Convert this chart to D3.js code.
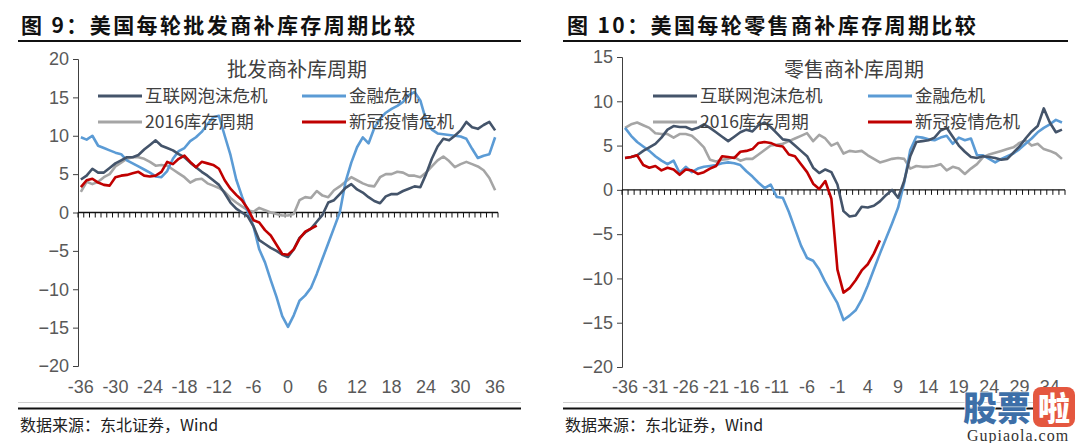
<!DOCTYPE html>
<html><head><meta charset="utf-8">
<script src="https://cdn.jsdelivr.net/npm/d3@7/dist/d3.min.js"></script>
<style>
html,body{margin:0;padding:0;background:#fff;}
svg{display:block;}
</style></head>
<body>
<svg id="c" width="1080" height="443"></svg>
<script>
// ---------- DATA ----------
const months = d3.range(-36, 37);
const seriesNames = ["互联网泡沫危机", "金融危机", "2016库存周期", "新冠疫情危机"];

// Left: wholesalers
const wDotcom = [4.3,4.8,5.7,5.2,5.2,5.8,6.4,6.8,7.2,7.2,7.5,8.2,8.8,9.4,8.7,8.4,8.1,7.6,7.2,6.5,5.9,5.3,4.8,4.2,3.6,2.5,1.3,0.5,0.0,-0.5,-1.8,-3.6,-4.1,-4.6,-5.0,-5.5,-5.8,-4.8,-3.3,-2.6,-2.1,-1.2,-0.3,1.3,1.6,2.4,3.2,3.7,3.0,2.6,2.0,1.5,1.2,2.1,2.4,2.4,2.8,3.1,3.4,3.3,5.0,7.0,8.6,9.6,9.4,10.0,10.7,11.8,11.1,10.9,11.4,11.8,10.7];
const wGfc = [9.8,9.5,10.0,8.7,8.4,8.1,7.8,7.6,6.8,6.4,6.0,5.6,5.2,4.7,4.6,5.4,7.0,8.0,8.4,9.3,9.8,10.5,11.5,12.4,12.6,10.0,7.5,4.3,2.1,0.1,-1.8,-4.8,-6.5,-8.8,-11.0,-13.5,-14.9,-13.4,-11.5,-10.8,-9.8,-8.0,-6.0,-4.0,-2.0,0.0,4.0,6.5,8.5,9.8,9.0,11.0,12.2,13.0,13.5,13.9,14.4,15.3,15.7,14.6,12.0,10.8,10.3,10.2,10.1,10.0,9.9,9.6,8.3,7.1,7.4,7.6,9.8];
const w2016 = [2.7,4.0,3.7,4.0,4.6,5.0,6.0,6.5,7.0,7.2,7.2,7.0,6.6,6.1,6.2,6.1,5.6,5.1,4.6,3.9,4.3,4.4,3.8,3.5,3.2,2.7,1.9,1.3,0.8,0.3,0.1,0.6,0.3,0.0,-0.2,-0.4,-0.4,-0.2,1.6,2.0,1.9,2.8,2.2,2.0,2.9,3.4,4.0,4.6,4.2,3.8,3.5,3.4,4.6,5.0,5.0,5.3,5.2,4.8,4.8,4.6,5.2,6.0,6.8,7.3,6.7,5.9,6.3,6.6,6.3,6.0,5.5,4.5,2.9];
const wCovid = [3.3,4.2,4.4,3.9,3.6,3.5,4.6,4.8,4.9,5.1,5.3,4.8,4.7,4.8,5.3,6.6,6.3,7.0,7.4,6.6,5.9,6.6,6.4,6.2,5.7,4.2,3.1,2.3,1.6,0.5,-1.0,-1.3,-2.3,-3.0,-4.2,-5.4,-5.5,-4.8,-3.4,-2.5,-2.1,-1.7];

// Right: retailers
const rDotcom = [3.6,3.7,3.9,4.4,4.8,5.2,5.9,6.8,7.2,7.1,7.1,6.8,7.0,7.4,7.0,6.5,6.0,5.5,6.0,6.5,6.8,6.6,7.3,7.6,7.1,6.4,5.7,5.6,5.0,4.4,3.8,2.5,1.9,2.3,2.0,0.6,-2.4,-3.0,-2.9,-1.9,-2.0,-1.8,-1.3,-0.6,0.0,-0.9,1.0,3.8,5.4,5.5,5.6,5.9,6.7,7.0,6.0,5.0,4.3,3.7,3.6,3.8,3.7,3.6,3.4,3.5,4.2,4.9,5.8,6.6,7.2,9.2,7.6,6.5,6.8];
const rGfc = [7.0,6.1,5.4,4.9,4.4,3.8,3.3,2.9,3.3,1.9,2.6,2.0,2.4,2.6,2.7,2.8,3.0,3.1,3.0,2.8,2.1,1.5,0.8,0.2,0.6,-0.8,-0.9,-2.5,-4.4,-6.3,-7.7,-8.0,-9.0,-10.4,-11.6,-12.8,-14.7,-14.2,-13.6,-12.4,-10.8,-9.0,-7.2,-5.5,-3.8,-2.0,0.8,4.5,6.0,5.9,5.7,5.6,5.9,6.1,5.2,5.9,5.6,5.8,3.9,3.9,3.5,3.1,3.5,3.8,4.1,4.6,5.2,5.8,6.5,7.0,7.4,7.9,7.6];
const r2016 = [7.0,7.4,7.6,7.3,7.0,6.4,6.3,6.3,5.9,6.3,6.3,6.1,5.5,4.8,3.4,3.2,3.4,3.5,3.7,3.3,3.5,3.5,4.0,4.5,5.0,5.1,5.2,5.5,5.8,6.1,6.4,5.5,6.2,5.8,5.0,5.3,4.1,4.4,4.3,4.4,3.9,3.5,3.1,3.3,3.5,3.6,3.5,2.4,2.7,2.6,2.6,2.7,2.9,2.2,2.6,2.4,1.8,2.4,2.9,3.7,4.0,4.2,4.4,4.6,4.8,5.3,5.6,5.0,5.2,4.6,4.4,4.1,3.5];
const rCovid = [3.6,3.7,3.9,2.8,2.5,2.7,2.2,2.5,2.3,1.7,2.3,2.2,1.8,2.0,2.4,2.7,3.8,3.7,3.6,4.3,4.4,4.6,5.3,5.4,5.3,5.0,4.9,4.0,3.8,2.9,2.0,0.7,0.1,1.0,-1.0,-9.0,-11.6,-11.1,-10.2,-9.1,-8.4,-7.2,-5.7];

const leftYTicks = [-20,-15,-10,-5,0,5,10,15,20];
const rightYTicks = [-20,-15,-10,-5,0,5,10,15];
const leftXTicks = [-36,-30,-24,-18,-12,-6,0,6,12,18,24,30,36];
const rightXTicks = [-36,-31,-26,-21,-16,-11,-6,-1,4,9,14,19,24,29,34];

const colors = ["#44546A", "#5B9BD5", "#A5A5A5", "#C00000"];

// ---------- DRAW ----------
const svg = d3.select("#c");
const CJK = "'Noto Sans CJK SC','Noto Sans',sans-serif";
const LAT = "'Liberation Sans',Arial,sans-serif";

function drawPanel(o) {
  const g = svg.append("g");
  // header
  g.append("text").attr("x", o.hx).attr("y", 33)
    .attr("font-family", CJK).attr("font-weight", 700).attr("font-size", 21)
    .attr("letter-spacing", 2.4).attr("xml:space", "preserve")
    .attr("fill", "#111").text(o.header);
  g.append("line").attr("x1", o.rx0).attr("x2", o.rx1).attr("y1", 41).attr("y2", 41)
    .attr("stroke", "#111").attr("stroke-width", 2);
  // footer rules
  g.append("line").attr("x1", o.rx0).attr("x2", o.rx1).attr("y1", 402.5).attr("y2", 402.5)
    .attr("stroke", "#d0d0d0").attr("stroke-width", 1);
  g.append("line").attr("x1", o.rx0).attr("x2", o.rx1).attr("y1", 408.5).attr("y2", 408.5)
    .attr("stroke", "#111").attr("stroke-width", 2);
  g.append("text").attr("x", o.rx0 + 2).attr("y", 431)
    .attr("font-family", CJK).attr("font-size", 16).attr("fill", "#222")
    .text("数据来源：东北证券，Wind");

  const x = d3.scaleBand().domain(months).range([o.x0, o.x1]).padding(0);
  const y = d3.scaleLinear().domain(o.yDomain).range([o.yBottom, o.yTop]);
  const cx = m => x(m) + x.bandwidth() / 2;

  // y axis
  const ya = g.append("g").attr("transform", `translate(${o.x0},0)`)
    .call(d3.axisLeft(y).tickValues(o.yTicks).tickSize(5).tickPadding(4).tickFormat(d3.format("d")));
  ya.select(".domain").attr("stroke", "#404040");
  ya.selectAll(".tick line").attr("stroke", "#404040");
  ya.selectAll("text").attr("font-family", LAT).attr("font-size", 18).attr("fill", "#595959");

  // x axis at zero with band ticks
  const zeroY = y(0);
  g.append("line").attr("x1", o.x0).attr("x2", o.x1).attr("y1", zeroY).attr("y2", zeroY)
    .attr("stroke", "#111").attr("stroke-width", 1.3);
  const bounds = months.map(m => x(m)).concat([o.x1]);
  g.selectAll("line.bt").data(bounds).join("line").attr("class", "bt")
    .attr("x1", d => d).attr("x2", d => d).attr("y1", zeroY).attr("y2", zeroY + 5)
    .attr("stroke", "#111").attr("stroke-width", 1);

  // x labels (low position)
  g.selectAll("text.xl").data(o.xTicks).join("text").attr("class", "xl")
    .attr("x", d => cx(d)).attr("y", 393).attr("text-anchor", "middle")
    .attr("font-family", LAT).attr("font-size", 18).attr("fill", "#595959")
    .text(d => d);

  // inner title
  g.append("text").attr("x", o.tx).attr("y", 77).attr("text-anchor", "middle")
    .attr("font-family", CJK).attr("font-size", 20).attr("fill", "#404040").text(o.title);

  // lines (draw order: 2016, gfc, dotcom, covid)
  const line = d3.line().x((d, i) => cx(months[i])).y(d => y(d));
  const order = [2, 1, 0, 3];
  order.forEach(k => {
    g.append("path").datum(o.series[k]).attr("d", line)
      .attr("fill", "none").attr("stroke", colors[k]).attr("stroke-width", 2.6)
      .attr("stroke-linejoin", "round");
  });

  // legend
  const pos = [[o.lx[0], 96], [o.lx[1], 96], [o.lx[0], 122], [o.lx[1], 122]];
  seriesNames.forEach((n, k) => {
    const [lx, ly] = pos[k];
    g.append("line").attr("x1", lx).attr("x2", lx + 44).attr("y1", ly).attr("y2", ly)
      .attr("stroke", colors[k]).attr("stroke-width", 3);
    g.append("text").attr("x", lx + 47).attr("y", ly + 6)
      .attr("font-family", CJK).attr("font-size", 17.5).attr("fill", "#404040").text(n);
  });
}

drawPanel({
  header: "图 9：美国每轮批发商补库存周期比较", hx: 21, rx0: 18, rx1: 521,
  x0: 78, x1: 498, yTop: 59, yBottom: 366, yDomain: [-20, 20],
  yTicks: leftYTicks, xTicks: leftXTicks, title: "批发商补库周期", tx: 297,
  lx: [98, 302], series: [wDotcom, wGfc, w2016, wCovid]
});
drawPanel({
  header: "图 10：美国每轮零售商补库存周期比较", hx: 567, rx0: 563, rx1: 1068,
  x0: 622, x1: 1065, yTop: 57, yBottom: 367, yDomain: [-20, 15],
  yTicks: rightYTicks, xTicks: rightXTicks, title: "零售商补库周期", tx: 854,
  lx: [653, 868], series: [rDotcom, rGfc, r2016, rCovid]
});

// watermark
const wm = svg.append("g");
wm.append("text").attr("x", 963).attr("y", 421)
  .attr("font-family", CJK).attr("font-weight", 900).attr("font-size", 34)
  .attr("fill", "#3d6fa8").attr("stroke", "#fff").attr("stroke-width", 1.5).attr("paint-order", "stroke")
  .text("股票");
wm.append("rect").attr("x", 1033).attr("y", 387).attr("width", 42).attr("height", 40).attr("rx", 8)
  .attr("fill", "#e4573f");
wm.append("text").attr("x", 1054).attr("y", 420).attr("text-anchor", "middle")
  .attr("font-family", CJK).attr("font-weight", 900).attr("font-size", 32).attr("fill", "#fff").text("啦");
wm.append("text").attr("x", 1018).attr("y", 441).attr("text-anchor", "middle")
  .attr("font-family", "'Liberation Serif',serif").attr("font-size", 16).attr("fill", "#333")
  .attr("letter-spacing", 1).text("Gupiaola.com");
</script>
</body></html>
